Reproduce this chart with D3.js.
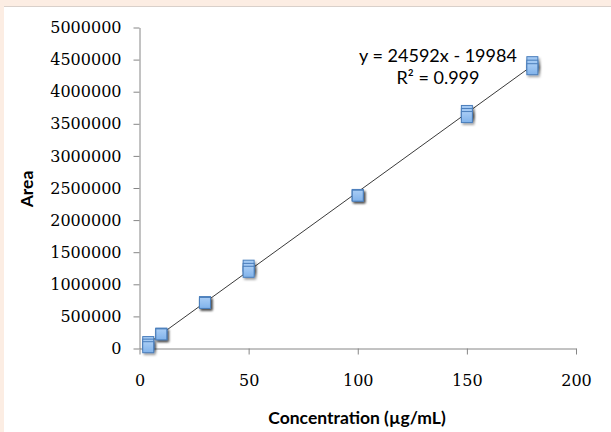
<!DOCTYPE html>
<html>
<head>
<meta charset="utf-8">
<script src="https://cdn.jsdelivr.net/npm/d3@7"></script>
<style>
    html, body { margin: 0; padding: 0; background: #fcede3; }
    svg { display: block; }
    .tick text { font-family: "DejaVu Serif", serif; font-size: 16px; fill: #000; }
    .axis path, .axis line { stroke: #868686; }
    .axis-title { font-family: Lato, "Open Sans", sans-serif; font-weight: bold; font-size: 17.5px; fill: #000; }
    .eqn { font-family: Lato, "Open Sans", sans-serif; font-size: 18px; fill: #000; }
</style>
</head>
<body>
<div id="chart"></div>
<script>
const WIDTH = 611, HEIGHT = 432;
const X_LEFT = 139.5, X_RIGHT = 576;
const Y_TOP = 27.5, Y_BOTTOM = 348.5;
const MARKER = 11;

// data
const concentration = [4, 10, 30, 50, 100, 150, 180];
const areaRep1 = [100000, 232000, 722000, 1290000, 2392000, 3700000, 4460000];
const areaRep3 = [60000, 226000, 716000, 1240000, 2386000, 3652000, 4405000];
const areaRep2 = [20000, 220000, 710000, 1195000, 2380000, 3605000, 4350000];
const xTicks = [0, 50, 100, 150, 200];
const yTicks = [0, 500000, 1000000, 1500000, 2000000, 2500000, 3000000, 3500000, 4000000, 4500000, 5000000];
const slope = 24592, intercept = -19984;
const eqnLines = ['y = 24592x - 19984', 'R² = 0.999'];

const svg = d3.select('#chart').append('svg')
    .attr('width', WIDTH)
    .attr('height', HEIGHT);

const defs = svg.append('defs');
const grad = defs.append('linearGradient')
    .attr('id', 'markerFill')
    .attr('x1', 0).attr('y1', 0).attr('x2', 0).attr('y2', 1);
grad.append('stop').attr('offset', '0%').attr('stop-color', '#a9cdf5');
grad.append('stop').attr('offset', '100%').attr('stop-color', '#80b2ea');

const shadow = defs.append('filter')
    .attr('id', 'shadow')
    .attr('x', '-50%').attr('y', '-50%').attr('width', '200%').attr('height', '200%');
shadow.append('feDropShadow')
    .attr('dx', 1.5).attr('dy', 2)
    .attr('stdDeviation', 1.2)
    .attr('flood-color', '#000')
    .attr('flood-opacity', 0.35);

// white plot card on the peach page
svg.append('line')
    .attr('x1', 4).attr('x2', WIDTH)
    .attr('y1', 6.5).attr('y2', 6.5)
    .attr('stroke', '#d9d0ca');
svg.append('rect')
    .attr('x', 4).attr('y', 7)
    .attr('width', WIDTH - 4).attr('height', HEIGHT - 7)
    .attr('fill', '#fff');

const x = d3.scaleLinear().domain([0, 200]).range([X_LEFT, X_RIGHT]);
const y = d3.scaleLinear().domain([0, 5000000]).range([Y_BOTTOM, Y_TOP]);

const yAxis = d3.axisLeft(y)
    .tickValues(yTicks)
    .tickFormat(d3.format('d'))
    .tickSizeInner(6)
    .tickSizeOuter(0)
    .tickPadding(12);

svg.append('g')
    .attr('class', 'axis')
    .attr('transform', `translate(${X_LEFT}, 0)`)
    .call(yAxis);

const xAxis = d3.axisBottom(x)
    .tickValues(xTicks)
    .tickSizeInner(6)
    .tickSizeOuter(0)
    .tickPadding(20);

svg.append('g')
    .attr('class', 'axis')
    .attr('transform', `translate(0, ${Y_BOTTOM})`)
    .call(xAxis);

svg.selectAll('.axis .domain').attr('stroke', '#868686');

// trendline
const trend = d3.line()
    .x(d => x(d))
    .y(d => y(slope * d + intercept));

svg.append('path')
    .datum([concentration[0], concentration[concentration.length - 1]])
    .attr('d', trend)
    .attr('stroke', '#3a3a3a')
    .attr('stroke-width', 1)
    .attr('fill', 'none');

// replicate markers
[areaRep1, areaRep3, areaRep2].forEach(series => {
    svg.append('g')
        .selectAll('rect')
        .data(series)
        .enter().append('rect')
            .attr('x', (d, i) => x(concentration[i]) - MARKER / 2)
            .attr('y', d => y(d) - MARKER / 2)
            .attr('width', MARKER)
            .attr('height', MARKER)
            .attr('fill', 'url(#markerFill)')
            .attr('stroke', '#4a7ebb')
            .attr('stroke-width', 1)
            .attr('filter', 'url(#shadow)');
});

// equation label
svg.append('g')
    .selectAll('text')
    .data(eqnLines)
    .enter().append('text')
        .attr('class', 'eqn')
        .attr('x', 438)
        .attr('y', (d, i) => 62 + i * 22)
        .attr('text-anchor', 'middle')
        .text(d => d);

svg.append('text')
    .attr('class', 'axis-title')
    .attr('x', 357)
    .attr('y', 424)
    .attr('text-anchor', 'middle')
    .text('Concentration (µg/mL)');

svg.append('text')
    .attr('class', 'axis-title')
    .attr('transform', `translate(33, 189) rotate(-90)`)
    .attr('text-anchor', 'middle')
    .text('Area');
</script>
</body>
</html>
